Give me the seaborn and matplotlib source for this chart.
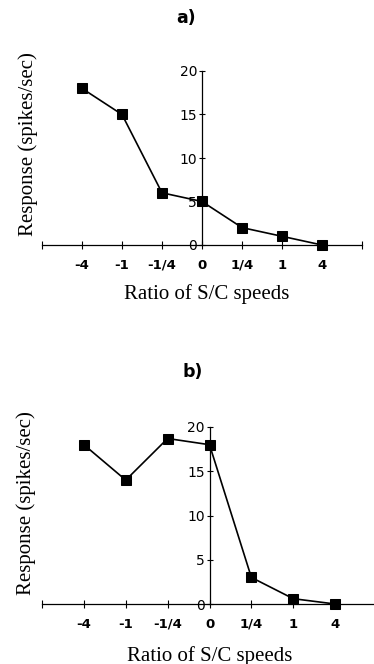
import matplotlib
matplotlib.use('Agg')
import matplotlib.pyplot as plt
import seaborn as sns
import pandas as pd

# Ratio of S/C speeds (category order along the x axis)
ratios = ['-4', '-1', '-1/4', '0', '1/4', '1', '4']
# response, spikes/sec
resp_a = [18, 15, 6, 5, 2, 1, 0]
resp_b = [18, 14, 18.7, 18, 3, 0.6, 0]
y_ticks = [0, 5, 10, 15, 20]

sns.set_style('white')
plt.rcParams['font.family'] = ['DejaVu Sans']
plt.rcParams['text.color'] = 'black'
plt.rcParams['axes.labelcolor'] = 'black'

fig = plt.figure(figsize=(3.74, 6.64), dpi=100)

# [left, bottom, width, height] in figure fractions, plus label anchors
panels = [
    ('a)', resp_a, [42/374, 1-245/664, 320/374, 174/664], (186/374, 1-18/664),
     (-0.012, 0.58), (0.516, -0.225)),
    ('b)', resp_b, [42/374, 1-604/664, 335/374, 177/664], (193/374, 1-372/664),
     (-0.018, 0.57), (0.50, -0.235)),
]

for tag, resp, rect, tpos, ylab_xy, xlab_xy in panels:
    ax = fig.add_axes(rect)
    df = pd.DataFrame({'pos': range(len(ratios)), 'resp': resp})
    sns.lineplot(data=df, x='pos', y='resp', ax=ax, color='black', lw=1.2,
                 marker='s', markersize=6.5, markeredgecolor='black',
                 markerfacecolor='black', clip_on=False)

    ax.set_xlim(-1, len(ratios))
    ax.set_ylim(0, 20)

    for side in ['top', 'right']:
        ax.spines[side].set_visible(False)
    ax.spines['left'].set_position(('data', 3))
    ax.spines['bottom'].set_position(('data', 0))
    for side in ['left', 'bottom']:
        ax.spines[side].set_linewidth(0.9)
        ax.spines[side].set_color('black')

    ax.set_xticks(range(-1, len(ratios) + 1))
    ax.set_xticklabels([''] + ratios + [''], fontsize=9.5, fontweight='bold')
    ax.set_yticks(y_ticks)
    ax.set_yticklabels([str(v) for v in y_ticks], fontsize=10)
    ax.tick_params(axis='x', bottom=True, direction='inout', length=6,
                   width=0.8, pad=7, colors='black')
    ax.tick_params(axis='y', left=True, direction='inout', length=5,
                   width=0.8, pad=1, colors='black')

    ax.set_ylabel('Response (spikes/sec)', family='Liberation Serif', fontsize=15)
    ax.set_xlabel('Ratio of S/C speeds', family='Liberation Serif', fontsize=15)
    ax.yaxis.set_label_coords(*ylab_xy)
    ax.xaxis.set_label_coords(*xlab_xy)

    fig.text(tpos[0], tpos[1], tag, ha='center', va='center',
             fontsize=12.5, fontweight='bold')

fig.savefig('out.png', dpi=100)
